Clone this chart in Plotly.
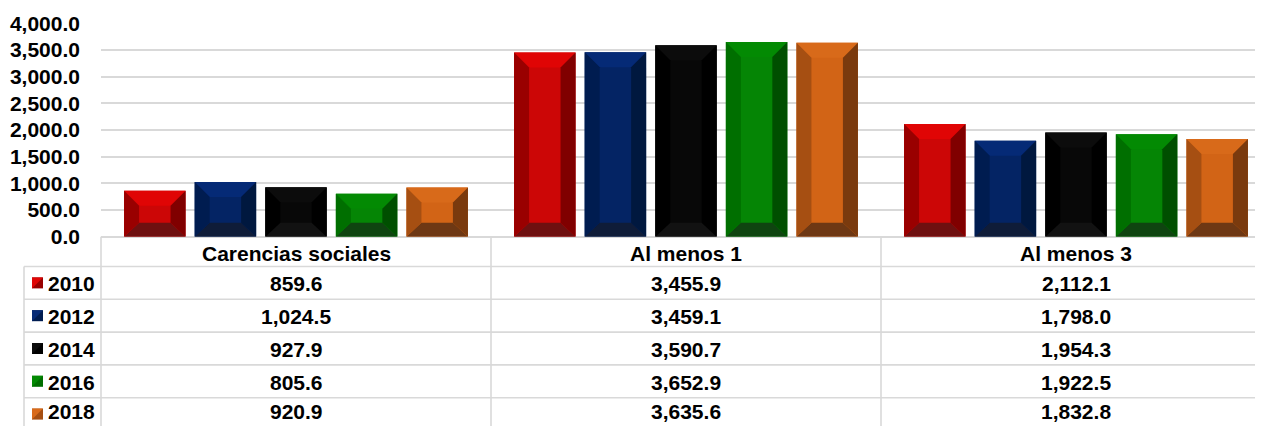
import plotly.graph_objects as go

# data
categories = ["Carencias sociales", "Al menos 1", "Al menos 3"]
years = ["2010", "2012", "2014", "2016", "2018"]
v2010 = [859.6, 3455.9, 2112.1]
v2012 = [1024.5, 3459.1, 1798.0]
v2014 = [927.9, 3590.7, 1954.3]
v2016 = [805.6, 3652.9, 1922.5]
v2018 = [920.9, 3635.6, 1832.8]
series = [v2010, v2012, v2014, v2016, v2018]

# bevel palette per year: center, top, left, right, bottom
palette = [
    ("#CC0606", "#E00505", "#990000", "#800000", "#6E1010"),
    ("#042464", "#052A76", "#001C50", "#00183F", "#0F1C38"),
    ("#080808", "#0C0C0C", "#000000", "#000000", "#121212"),
    ("#058505", "#038A03", "#006F00", "#004F00", "#0F4410"),
    ("#D26416", "#D86A1A", "#A64F12", "#7A3A0E", "#6E3814"),
]

# page is offset by the body margin, so the figure is sized to fill the window
OFF = 8
W, H = 1263 - OFF, 426 - OFF
FONT = "Liberation Sans, Arial, sans-serif"
GRID = "#D9D9D9"


def px(x):
    return (x - OFF) / W


def py(y):
    return 1 - (y - OFF) / H


# plot area (page pixels)
plot_left, plot_right = 101, 1263
cat_px = 390.0
y_zero_px, y_top_px = 236.7, 23.4
xr = [-0.5, -0.5 + (plot_right - plot_left) / cat_px]
yr = [0, 4000]
xdom = [px(plot_left), px(plot_right)]
ydom = [py(y_zero_px), py(y_top_px)]


def xdata_to_paper(x):
    return xdom[0] + (x - xr[0]) / (xr[1] - xr[0]) * (xdom[1] - xdom[0])


group_frac = 0.905
bar_frac = 0.871
slot = group_frac / len(series)
bar_w = slot * bar_frac
bevel_x = 15 / cat_px
bevel_top = 15 * (yr[1] - yr[0]) / (y_zero_px - y_top_px)
bevel_bot = 14 * (yr[1] - yr[0]) / (y_zero_px - y_top_px)

fig = go.Figure()
shapes = []
xs = list(range(len(categories)))

for k, (vals, yr_lbl, cols) in enumerate(zip(series, years, palette)):
    off = -group_frac / 2 + slot * k + slot * (1 - bar_frac) / 2
    fig.add_trace(go.Bar(
        x=xs, y=vals, name=yr_lbl, width=bar_w, offset=off,
        marker=dict(color=cols[0], line=dict(width=0)),
        showlegend=False, hoverinfo="skip",
    ))
    for i, h in zip(xs, vals):
        x0 = i + off
        x1 = x0 + bar_w
        faces = [
            (cols[1], [(x0, h), (x1, h), (x1 - bevel_x, h - bevel_top), (x0 + bevel_x, h - bevel_top)]),
            (cols[4], [(x0, 0), (x1, 0), (x1 - bevel_x, bevel_bot), (x0 + bevel_x, bevel_bot)]),
            (cols[2], [(x0, 0), (x0, h), (x0 + bevel_x, h - bevel_top), (x0 + bevel_x, bevel_bot)]),
            (cols[3], [(x1, 0), (x1, h), (x1 - bevel_x, h - bevel_top), (x1 - bevel_x, bevel_bot)]),
        ]
        for col, pts in faces:
            path = "M " + " L ".join(f"{a},{b}" for a, b in pts) + " Z"
            shapes.append(dict(type="path", path=path, xref="x", yref="y",
                               fillcolor=col, line=dict(width=0), layer="above"))

# data table under the plot
head_top = y_zero_px
row_top = 266.5
row_h = 32.8
table_left = 24
lw = 1.6

# horizontal row lines
for r in range(len(years) + 1):
    yy = row_top + r * row_h
    shapes.append(dict(type="line", xref="paper", yref="paper",
                       x0=px(table_left), x1=1.0, y0=py(yy), y1=py(yy),
                       line=dict(color=GRID, width=lw)))
# vertical lines
shapes.append(dict(type="line", xref="paper", yref="paper",
                   x0=px(table_left), x1=px(table_left), y0=py(row_top), y1=0,
                   line=dict(color=GRID, width=lw)))
for i in range(len(categories)):
    xp = xdata_to_paper(i - 0.5)
    shapes.append(dict(type="line", xref="paper", yref="paper",
                       x0=xp, x1=xp, y0=py(head_top), y1=0,
                       line=dict(color=GRID, width=lw)))

annotations = []
tfont = dict(family=FONT, size=21, color="black", weight="bold")
for i, c in enumerate(categories):
    annotations.append(dict(x=i, y=py(253), xref="x", yref="paper", text=c,
                            showarrow=False, xanchor="center", yanchor="middle", font=tfont))

key = 11
for r, (yr_lbl, vals, cols) in enumerate(zip(years, series, palette)):
    yc = row_top + r * row_h + row_h / 2
    ky0 = yc - key / 2
    # keep the text box inside the page for the last (clipped) row
    ty = min(yc + 1, 426 - 14.5)
    # legend key
    shapes.append(dict(type="rect", xref="paper", yref="paper",
                       x0=px(32), x1=px(32 + key), y0=py(ky0 + key), y1=py(ky0),
                       fillcolor=cols[2], line=dict(width=0)))
    shapes.append(dict(type="path", xref="paper", yref="paper",
                       path=f"M {px(32)},{py(ky0)} L {px(32 + key)},{py(ky0)} "
                            f"L {px(32)},{py(ky0 + key)} Z",
                       fillcolor=cols[1], line=dict(width=0)))
    annotations.append(dict(x=px(46), y=py(ty), xref="paper", yref="paper", text=yr_lbl,
                            showarrow=False, xanchor="left", yanchor="middle", font=tfont))
    for i, v in enumerate(vals):
        annotations.append(dict(x=i, y=py(ty), xref="x", yref="paper", text=f"{v:,.1f}",
                                showarrow=False, xanchor="center", yanchor="middle", font=tfont))

fig.update_layout(
    width=W, height=H, autosize=False,
    margin=dict(l=0, r=0, t=0, b=0, autoexpand=False),
    paper_bgcolor="white", plot_bgcolor="white",
    barmode="group",
    shapes=shapes, annotations=annotations,
    xaxis=dict(domain=xdom, range=xr, showticklabels=False, showgrid=False,
               zeroline=False, showline=False, ticks="", automargin=False),
    yaxis=dict(domain=ydom, range=yr, tickvals=[0, 500, 1000, 1500, 2000, 2500, 3000, 3500, 4000],
               tickformat=",.1f", showgrid=True, gridcolor=GRID, gridwidth=1.6,
               zeroline=True, zerolinecolor=GRID, zerolinewidth=1.6, showline=False,
               ticks="", ticklabelstandoff=20, automargin=False,
               tickfont=dict(family=FONT, size=21, color="black", weight="bold")),
)

fig.write_html("out.html")
